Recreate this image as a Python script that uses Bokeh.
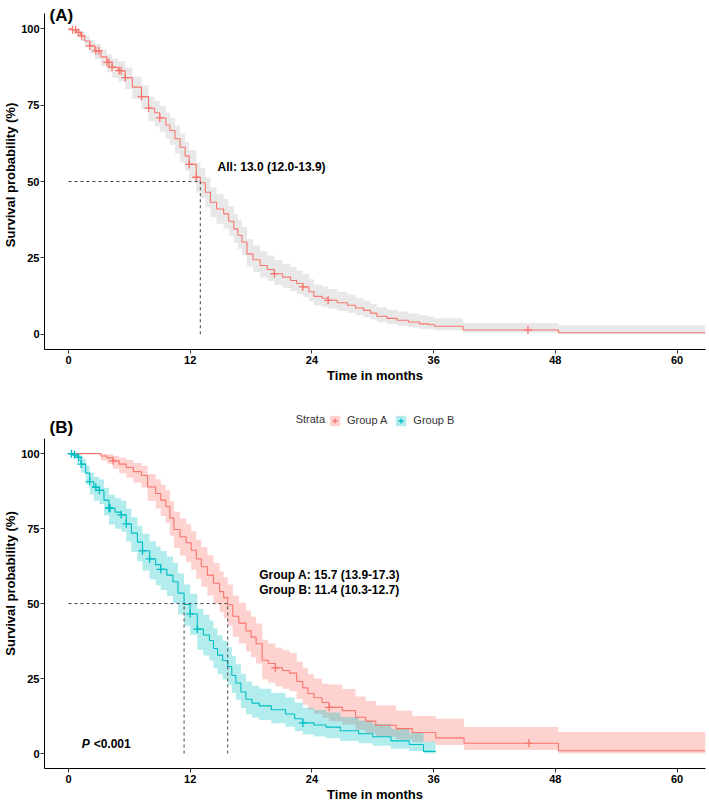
from bokeh.plotting import figure
from bokeh.layouts import column
from bokeh.models import Range1d, Label, Legend, LegendItem, FixedTicker
from bokeh.core.properties import value
from bokeh.embed import file_html
from bokeh.resources import INLINE

FONT = "Liberation Sans"
RED = "#F8766D"
CYAN = "#00BFC4"

# ---------------- data: panel A (all patients) ----------------
t_all = [0, 0.4, 0.8, 1.2, 1.6, 2.1, 2.6, 3.2, 3.8, 4.3, 4.9, 5.6, 6.3, 7.2, 7.9, 8.5, 9.0, 9.6, 10.0, 10.5,
         11.0, 11.5, 11.9, 12.6, 13.0, 13.5, 14.0, 14.6, 15.3, 15.8, 16.3, 16.7, 17.1, 17.6, 18.2, 18.9, 19.6, 20.3,
         21.1, 21.9, 22.5, 23.1, 23.7, 24.2, 25.0, 25.6, 26.5, 27.5, 28.3, 29.1, 29.8, 30.4, 31.4, 32.4, 33.5, 34.6,
         35.5, 36.1, 38.9, 48.3]
s_all = [100, 99.7, 98.8, 97.7, 96.0, 94.4, 92.8, 90.8, 89.0, 87.4, 86.3, 84.0, 80.9, 77.8, 74.0, 72.5, 70.8, 68.5,
         66.7, 64.0, 61.2, 58.4, 55.6, 51.4, 49.6, 46.5, 43.2, 41.0, 39.4, 37.0, 34.5, 32.4, 30.2, 26.3, 24.4, 22.5,
         21.2, 19.8, 18.7, 17.6, 16.6, 15.5, 13.9, 12.4, 11.8, 11.1, 10.3, 9.5, 8.6, 7.8, 6.9, 5.9, 5.2, 4.6, 4.0,
         3.4, 3.1, 2.6, 1.4, 0.5]
lo_all = [100, 99.1, 97.6, 96.0, 93.9, 92.0, 90.1, 87.8, 85.8, 84.0, 82.8, 80.3, 77.0, 73.7, 69.7, 68.1, 66.3, 63.9,
          62.0, 59.2, 56.3, 53.5, 50.6, 46.4, 44.6, 41.5, 38.3, 36.2, 34.6, 32.3, 29.9, 27.9, 25.9, 22.2, 20.4, 18.6,
          17.4, 16.1, 15.1, 14.1, 13.2, 12.2, 10.8, 9.5, 9.0, 8.4, 7.7, 7.0, 6.2, 5.5, 4.8, 3.9, 3.3, 2.8, 2.3,
          1.8, 1.6, 1.3, 0.5, 0.1]
hi_all = [100, 100, 99.6, 99.0, 97.6, 96.3, 95.0, 93.3, 91.7, 90.3, 89.4, 87.3, 84.4, 81.5, 77.8, 76.4, 74.8, 72.6,
          70.9, 68.3, 65.6, 62.9, 60.2, 56.1, 54.4, 51.3, 48.0, 45.9, 44.3, 41.9, 39.4, 37.3, 35.1, 31.1, 29.1, 27.2,
          25.8, 24.3, 23.1, 22.0, 20.9, 19.7, 18.0, 16.3, 15.6, 14.8, 13.9, 13.0, 11.9, 11.0, 9.9, 8.8, 8.0, 7.4, 6.8,
          6.2, 5.8, 5.2, 3.7, 2.9]
end_all = 62.8
cens_t_all = [0.4, 0.7, 1.0, 1.3, 2.1, 2.7, 3.0, 3.8, 4.0, 4.3, 5.0, 5.2, 5.6, 7.2, 7.9, 9.0, 11.9, 12.6, 20.3, 23.1,
              25.6, 45.3]
cens_s_all = [99.7, 99.7, 98.8, 97.7, 94.4, 92.8, 92.8, 89.0, 89.0, 87.4, 86.3, 86.3, 84.0, 77.8, 74.0, 70.8, 55.6,
              51.4, 19.8, 15.5, 11.1, 1.4]
median_all = [13.0]
label_all = "All: 13.0 (12.0-13.9)"

# ---------------- data: panel B, Group A ----------------
t_a = [0, 3.2, 3.8, 4.4, 5.0, 5.7, 6.4, 7.2, 7.8, 8.6, 9.1, 9.6, 10.0, 10.4, 11.0, 11.6, 12.1, 12.6, 13.1, 13.7,
       14.3, 14.9, 15.3, 15.7, 16.2, 16.8, 17.5, 18.0, 18.5, 19.1, 19.7, 20.4, 21.1, 21.8, 22.5, 23.1, 23.6, 24.2,
       25.0, 25.7, 27.0, 28.3, 29.3, 30.3, 32.3, 33.9, 36.2, 39.0, 48.3]
s_a = [100, 99.2, 98.6, 97.6, 96.5, 95.4, 94.0, 92.7, 88.9, 86.7, 84.5, 82.4, 78.5, 74.7, 72.3, 70.3, 67.8, 64.9,
       62.3, 59.5, 56.8, 54.0, 52.0, 49.6, 45.8, 43.5, 40.9, 38.8, 36.6, 31.1, 30.0, 28.6, 27.7, 26.8, 24.0, 21.9,
       20.0, 18.6, 17.0, 15.4, 14.3, 12.1, 10.8, 9.4, 8.3, 7.0, 5.2, 3.4, 0.9]
lo_a = [100, 97.7, 96.6, 95.0, 93.5, 92.0, 90.3, 88.7, 84.2, 81.7, 79.2, 76.9, 72.6, 68.5, 66.0, 63.9, 61.3, 58.3,
        55.6, 52.7, 50.0, 47.1, 45.1, 42.7, 38.9, 36.7, 34.1, 32.1, 30.0, 24.8, 23.7, 22.4, 21.6, 20.8, 18.2, 16.3,
        14.6, 13.3, 11.9, 10.8, 9.7, 7.9, 6.7, 5.6, 4.7, 3.8, 2.8, 1.2, 0.1]
hi_a = [100, 100, 99.8, 99.3, 98.6, 97.9, 96.9, 96.0, 93.2, 91.5, 89.6, 87.8, 84.1, 80.6, 78.4, 76.5, 74.1, 71.3,
        68.8, 66.1, 63.5, 60.7, 58.8, 56.4, 52.6, 50.3, 47.7, 45.6, 43.4, 37.9, 36.7, 35.3, 34.4, 33.5, 30.6, 28.4,
        26.4, 25.0, 23.3, 23.0, 21.5, 19.0, 17.5, 16.0, 14.3, 12.5, 11.6, 8.8, 7.2]
end_a = 62.8
cens_t_a = [4.4, 20.4, 25.7, 45.4]
cens_s_a = [97.6, 28.6, 15.4, 3.4]

# ---------------- data: panel B, Group B ----------------
t_b = [0, 0.5, 0.9, 1.25, 1.7, 2.1, 2.5, 3.05, 3.5, 4.0, 4.6, 5.2, 5.7, 6.2, 6.8, 7.3, 8.0, 8.6, 9.1, 9.7, 10.3,
       10.8, 11.4, 12.0, 12.7, 13.3, 13.9, 14.3, 14.7, 15.2, 15.7, 16.1, 16.5, 17.0, 17.5, 18.1, 18.8, 20.0, 21.4,
       22.3, 23.1, 24.2, 25.4, 26.8, 28.6, 30.0, 31.8, 33.6, 35.0]
s_b = [100, 99.6, 98.8, 96.5, 93.5, 90.7, 88.8, 87.8, 84.5, 81.8, 80.5, 79.6, 76.6, 73.5, 70.5, 67.6, 64.9, 63.0,
       61.4, 59.5, 57.3, 53.5, 49.7, 46.6, 41.5, 39.5, 37.7, 35.0, 32.8, 31.0, 29.0, 26.0, 23.5, 20.5, 18.1, 16.8,
       15.9, 14.6, 13.2, 11.6, 10.2, 9.5, 8.8, 7.6, 6.6, 5.6, 4.2, 3.0, 0.7]
lo_b = [100, 98.8, 97.0, 93.6, 89.8, 86.5, 84.3, 83.2, 79.4, 76.4, 75.0, 74.0, 70.7, 67.3, 64.1, 61.0, 58.1, 56.1,
        54.5, 52.5, 50.2, 46.4, 42.6, 39.6, 34.6, 32.7, 31.0, 28.4, 26.4, 24.7, 22.9, 20.2, 17.9, 15.2, 13.1, 12.0,
        11.2, 10.1, 8.9, 7.5, 6.3, 5.7, 5.1, 4.2, 3.4, 2.6, 1.6, 0.8, 0.0]
hi_b = [100, 100, 99.7, 98.3, 96.0, 93.7, 92.2, 91.4, 88.6, 86.3, 85.1, 84.3, 81.6, 78.8, 76.0, 73.3, 70.8, 69.0,
        67.5, 65.7, 63.6, 60.0, 56.4, 53.3, 48.3, 46.3, 44.4, 41.7, 39.4, 37.6, 35.5, 32.4, 29.8, 26.6, 24.0, 22.6,
        21.6, 20.2, 18.7, 16.9, 15.3, 14.5, 13.7, 12.2, 11.0, 9.8, 8.2, 6.8, 3.9]
end_b = 36.2
cens_t_b = [0.3, 0.6, 1.0, 1.25, 2.1, 2.7, 3.05, 4.0, 4.05, 4.1, 5.2, 5.7, 7.3, 8.0, 9.1, 12.0, 12.7, 23.1]
cens_s_b = [100, 99.6, 98.8, 96.5, 90.7, 88.8, 87.8, 81.8, 81.8, 81.8, 79.6, 76.6, 67.6, 64.9, 61.4, 46.6, 41.5, 10.2]

medians_ab = [15.7, 11.4]
labels_ab = ["Group A: 15.7 (13.9-17.3)", "Group B: 11.4 (10.3-12.7)"]
group_names = ["Group A", "Group B"]
legend_title = "Strata"
p_text = "<0.001"

x_ticks = [0, 12, 24, 36, 48, 60]
y_ticks = [0, 25, 50, 75, 100]


def steps(t, v, t_end):
    xs, ys = [], []
    for i in range(len(t)):
        x1 = t[i + 1] if i + 1 < len(t) else t_end
        xs += [t[i], x1]
        ys += [v[i], v[i]]
    return xs, ys


def make_fig(height, y_top, bottom):
    p = figure(width=709, height=height, x_range=Range1d(-2.36, 62.8), y_range=Range1d(-5, y_top),
               output_backend="svg", toolbar_location=None,
               min_border_top=0, min_border_bottom=bottom, min_border_left=40, min_border_right=4)
    p.outline_line_color = None
    p.xgrid.visible = False
    p.ygrid.visible = False
    p.xaxis.ticker = FixedTicker(ticks=x_ticks)
    p.yaxis.ticker = FixedTicker(ticks=y_ticks)
    p.yaxis.bounds = (-5, 105)
    p.xaxis.axis_label = "Time in months"
    p.yaxis.axis_label = "Survival probability (%)"
    for ax in (p.xaxis, p.yaxis):
        ax.axis_line_color = "black"
        ax.axis_line_width = 1
        ax.major_tick_line_color = "#333333"
        ax.major_tick_out = 4
        ax.major_tick_in = 0
        ax.minor_tick_line_color = None
        ax.major_label_text_font = FONT
        ax.major_label_text_font_size = "11px"
        ax.major_label_text_font_style = "bold"
        ax.major_label_text_color = "black"
        ax.axis_label_text_font = FONT
        ax.axis_label_text_font_size = "13px"
        ax.axis_label_text_font_style = "bold"
        ax.axis_label_text_color = "black"
    p.yaxis.major_label_standoff = 1
    p.yaxis.axis_label_standoff = 0
    p.xaxis.major_label_standoff = 2
    p.xaxis.axis_label_standoff = 1
    return p


def band(p, t, lo, hi, t_end, color, alpha):
    xs, y1 = steps(t, lo, t_end)
    _, y2 = steps(t, hi, t_end)
    return p.varea(x=xs, y1=y1, y2=y2, fill_color=color, fill_alpha=alpha)


def curve(p, t, s, t_end, color):
    xs, ys = steps(t, s, t_end)
    return p.line(xs, ys, line_color=color, line_width=1.1)


def censors(p, t, s, color):
    return p.scatter(t, s, marker="cross", size=8, line_color=color, line_width=1.3)


dash = dict(line_dash="3 3", line_color="#444444", line_width=1)

# ---------------- panel A ----------------
pA = make_fig(398, 109.26, 49)
band(pA, t_all, lo_all, hi_all, end_all, "#BEBEBE", 0.35)
curve(pA, t_all, s_all, end_all, RED)
censors(pA, cens_t_all, cens_s_all, RED)
m = len(median_all)
pA.segment(x0=[0] * m, y0=[50] * m, x1=median_all, y1=[50] * m, **dash)
pA.segment(x0=median_all, y0=[0] * m, x1=median_all, y1=[50] * m, **dash)
pA.text(x=[14.7], y=[54.6], text=[label_all], text_font=value(FONT), text_font_size="12px",
        text_font_style="bold", text_baseline="middle", text_align="left", text_color="black")
pA.add_layout(Label(x=-2.36, y=105, x_offset=5, y_offset=-2, text="(A)", text_font=FONT, text_font_size="17px",
                    text_font_style="bold", text_baseline="alphabetic", text_color="black"))

# ---------------- panel B ----------------
pB = make_fig(406, 118.4, 35)
bandA = band(pB, t_a, lo_a, hi_a, end_a, RED, 0.33)
bandB = band(pB, t_b, lo_b, hi_b, end_b, CYAN, 0.3)
curve(pB, t_a, s_a, end_a, RED)
curve(pB, t_b, s_b, end_b, CYAN)
cA = censors(pB, cens_t_a, cens_s_a, RED)
cB = censors(pB, cens_t_b, cens_s_b, CYAN)
n = len(medians_ab)
pB.segment(x0=[0], y0=[50], x1=[max(medians_ab)], y1=[50], **dash)
pB.segment(x0=medians_ab, y0=[0] * n, x1=medians_ab, y1=[50] * n, **dash)
pB.text(x=[18.8, 18.8], y=[59.5, 54.6], text=labels_ab, text_font=value(FONT), text_font_size="12px",
        text_font_style="bold", text_baseline="middle", text_align="left", text_color="black")
pB.text(x=[1.3], y=[3.3], text=["P"], text_font=value(FONT), text_font_size="12px",
        text_font_style="bold italic", text_baseline="middle", text_align="left", text_color="black")
pB.text(x=[1.3], y=[3.3], x_offset=12, text=[p_text], text_font=value(FONT), text_font_size="12px",
        text_font_style="bold", text_baseline="middle", text_align="left", text_color="black")
pB.add_layout(Label(x=-2.36, y=105, x_offset=5, y_offset=11, text="(B)", text_font=FONT, text_font_size="17px",
                    text_font_style="bold", text_baseline="alphabetic", text_color="black"))
pB.add_layout(Label(x=22.4, y=105, y_offset=20, text=legend_title, text_font=FONT, text_font_size="11px",
                    text_baseline="middle", text_color="#333333"))

legend = Legend(items=[LegendItem(label=group_names[0], renderers=[bandA, cA]),
                       LegendItem(label=group_names[1], renderers=[bandB, cB])],
                orientation="horizontal", location=(284, 340), margin=0, padding=2, spacing=7,
                glyph_width=13, glyph_height=13, label_height=16, label_standoff=6,
                label_text_font=FONT, label_text_font_size="11px", label_text_color="#333333",
                border_line_color=None, background_fill_alpha=0)
pB.add_layout(legend)

page = column(pA, pB, spacing=0)
open("out.html", "w").write(file_html(page, INLINE))
